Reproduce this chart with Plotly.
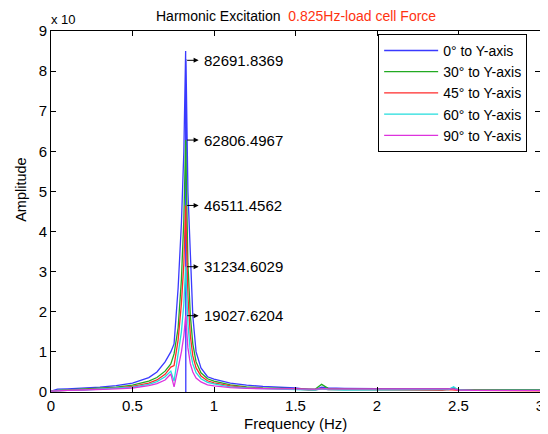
import plotly.graph_objects as go

# Frequency grid (Hz)
freq = [0, 0.04, 0.1, 0.2, 0.3, 0.4, 0.5, 0.6, 0.65, 0.7,
        0.735, 0.755, 0.78, 0.80, 0.815, 0.826, 0.827, 0.828, 0.84, 0.855, 0.87,
        0.89, 0.92, 0.96, 1.0, 1.1, 1.2, 1.3, 1.4, 1.5, 1.58,
        1.62, 1.66, 1.7, 1.8, 2.0, 2.2, 2.4, 2.44, 2.47, 2.5,
        2.6, 2.8, 3.0]

# Amplitudes in units of 1e4
amp_0 = [0.02, 0.07, 0.08, 0.10, 0.12, 0.16, 0.22, 0.36, 0.50, 0.75,
         1.00, 1.20, 2.60, 4.20, 6.00, 8.50, 0.00, 8.30, 5.00, 3.20, 1.90,
         1.00, 0.60, 0.38, 0.32, 0.22, 0.17, 0.14, 0.12, 0.10, 0.06,
         0.06, 0.12, 0.10, 0.09, 0.08, 0.08, 0.08, 0.08, 0.10, 0.05,
         0.05, 0.04, 0.04]
amp_30 = [0.02, 0.04, 0.05, 0.07, 0.09, 0.12, 0.17, 0.27, 0.36, 0.52,
          0.70, 0.95, 1.60, 2.80, 4.30, 6.28, 6.20, 5.80, 3.20, 1.90, 1.20,
          0.75, 0.48, 0.33, 0.27, 0.18, 0.13, 0.10, 0.09, 0.07, 0.06,
          0.07, 0.19, 0.09, 0.08, 0.07, 0.07, 0.07, 0.07, 0.09, 0.06,
          0.06, 0.06, 0.06]
amp_45 = [0.02, 0.03, 0.04, 0.06, 0.08, 0.10, 0.14, 0.22, 0.30, 0.44,
          0.62, 0.66, 1.30, 2.20, 3.20, 4.65, 4.60, 4.30, 2.40, 1.40, 0.90,
          0.60, 0.40, 0.28, 0.23, 0.15, 0.11, 0.09, 0.08, 0.08, 0.05,
          0.05, 0.09, 0.06, 0.06, 0.05, 0.05, 0.04, 0.06, 0.05, 0.04,
          0.04, 0.03, 0.03]
amp_60 = [0.02, 0.03, 0.04, 0.05, 0.07, 0.09, 0.12, 0.19, 0.26, 0.38,
          0.52, 0.27, 0.90, 1.50, 2.20, 3.12, 3.08, 2.90, 1.70, 1.00, 0.70,
          0.48, 0.33, 0.24, 0.20, 0.13, 0.10, 0.08, 0.07, 0.06, 0.05,
          0.05, 0.08, 0.06, 0.05, 0.05, 0.05, 0.05, 0.06, 0.13, 0.05,
          0.04, 0.04, 0.04]
amp_90 = [0.02, 0.03, 0.04, 0.05, 0.06, 0.08, 0.10, 0.16, 0.21, 0.30,
          0.45, 0.13, 0.60, 1.00, 1.40, 1.90, 1.88, 1.80, 1.10, 0.70, 0.50,
          0.35, 0.25, 0.18, 0.15, 0.11, 0.09, 0.08, 0.08, 0.08, 0.07,
          0.07, 0.08, 0.08, 0.08, 0.08, 0.08, 0.08, 0.08, 0.08, 0.05,
          0.04, 0.04, 0.04]

series_names = ["0° to Y-axis", "30° to Y-axis", "45° to Y-axis",
                "60° to Y-axis", "90° to Y-axis"]
series_vals = [amp_0, amp_30, amp_45, amp_60, amp_90]
colors = ["#3a3aff", "#22aa22", "#ff2a2a", "#22dddd", "#dd33dd"]

# Peak labels
peak_freq = 0.826
peak_labels = ["82691.8369", "62806.4967", "46511.4562", "31234.6029", "19027.6204"]
peak_vals = [8.2691, 6.2806, 4.6511, 3.1235, 1.9028]

FONT = "Liberation Sans"

fig = go.Figure()
for name, vals, c in zip(series_names, series_vals, colors):
    fig.add_trace(go.Scatter(x=freq, y=vals, mode="lines", name=name,
                             line=dict(color=c, width=1.3)))

for lab, v in zip(peak_labels, peak_vals):
    fig.add_annotation(x=peak_freq, y=v, xref="x", yref="y", text="",
                       showarrow=True, ax=-13, ay=0, xshift=13,
                       arrowhead=2, arrowsize=1, arrowwidth=1, arrowcolor="black")
    fig.add_annotation(x=peak_freq, y=v, xref="x", yref="y", text=lab,
                       showarrow=False, xanchor="left", yanchor="middle", xshift=16,
                       font=dict(size=15, color="black", family=FONT))

fig.add_annotation(x=0.5, y=1.0, xref="paper", yref="paper", yshift=15,
                   text="Harmonic Excitation  <span style='color:#ff3311'>0.825Hz-load cell Force</span>",
                   showarrow=False, xanchor="center", yanchor="middle",
                   font=dict(size=14, color="black", family=FONT))
fig.add_annotation(x=0, y=1.0, xref="paper", yref="paper", yshift=12, xshift=-2,
                   text="x 10", showarrow=False, xanchor="left", yanchor="middle",
                   font=dict(size=13, color="black", family=FONT))
fig.add_annotation(x=0.5, y=0, xref="paper", yref="paper", yshift=-31,
                   text="Frequency (Hz)", showarrow=False, xanchor="center", yanchor="middle",
                   font=dict(size=15, color="black", family=FONT))
fig.add_annotation(x=0, y=0.56, xref="paper", yref="paper", xshift=-30,
                   text="Amplitude", showarrow=False, textangle=-90,
                   xanchor="center", yanchor="middle",
                   font=dict(size=14.5, color="black", family=FONT))

axis_common = dict(showline=True, linecolor="black", linewidth=1, mirror="allticks",
                   ticks="inside", ticklen=5, tickcolor="black", showgrid=False,
                   zeroline=False, automargin=False, ticklabeloverflow="allow",
                   tickfont=dict(size=15, color="black", family=FONT))

# page body has an 8px margin, so the figure is 540x426 to fill the 548x434 window
fig.update_layout(
    width=540, height=426,
    margin=dict(l=43, r=8, t=23, b=42),
    paper_bgcolor="white", plot_bgcolor="white",
    font=dict(family=FONT, color="black"),
    showlegend=True,
    legend=dict(x=0.669, y=0.992, xanchor="left", yanchor="top",
                bgcolor="white", bordercolor="black", borderwidth=1,
                font=dict(size=14, family=FONT), tracegroupgap=0, itemwidth=54),
    xaxis=dict(range=[0, 3], tickvals=[0, 0.5, 1, 1.5, 2, 2.5, 3],
               ticktext=["0", "0.5", "1", "1.5", "2", "2.5", "3"],
               **axis_common),
    yaxis=dict(range=[0, 9], tickvals=list(range(10)), **axis_common),
)

fig.write_html("out.html")
